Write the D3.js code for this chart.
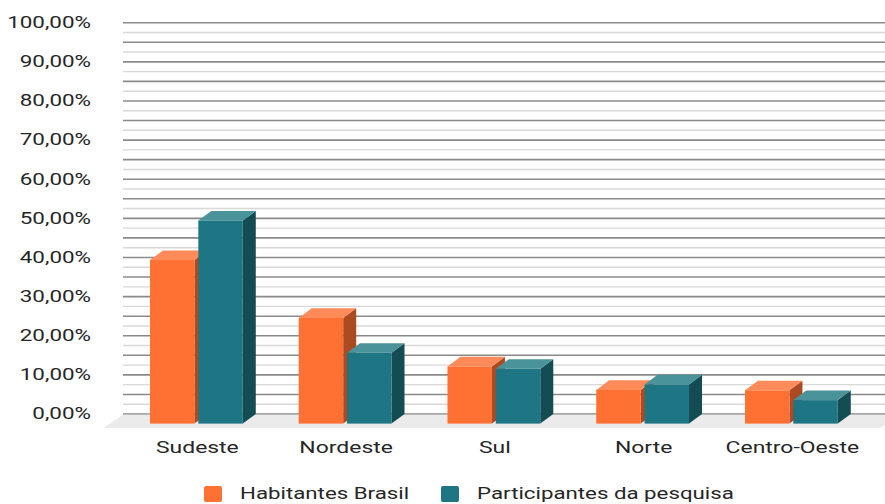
<!DOCTYPE html>
<html>
<head>
<meta charset="utf-8">
<script src="https://cdn.jsdelivr.net/npm/d3@7"></script>
<style>
  html, body { margin: 0; padding: 0; background: #ffffff; }
  svg { display: block; }
  text { font-family: Roboto, "Liberation Sans", Arial, sans-serif; fill: #262626; }
</style>
</head>
<body>
<svg id="chart" width="885" height="504"></svg>
<script>
// ---- data ----
const categories = ["Sudeste", "Nordeste", "Sul", "Norte", "Centro-Oeste"];
const seriesNames = ["Habitantes Brasil", "Participantes da pesquisa"];
const habitantesBrasil = [41.8, 27.0, 14.6, 8.6, 8.5];
const participantesPesquisa = [51.9, 18.1, 14.0, 10.0, 6.0];
const yTickValues = [0, 10, 20, 30, 40, 50, 60, 70, 80, 90, 100];

// ---- layout / style ----
const W = 885, H = 504;
const plotLeft = 123, plotRight = 885;
const backZeroY = 414, backTopY = 22.7;
const depthDx = 13, depthDy = 9.6;
const floorDx = 20, floorDy = 14;
const colors = {
  "Habitantes Brasil": { front: "#ff7033", top: "#ff8b5a", side: "#ac4a22" },
  "Participantes da pesquisa": { front: "#1e7583", top: "#4b939b", side: "#144c54" }
};

const svg = d3.select("#chart");

const y = d3.scaleLinear().domain([0, 100]).range([backZeroY, backTopY]);
const x = d3.scaleBand().domain(categories).range([122, 122 + 5 * 148.75]).padding(0);
const xs = d3.scaleBand().domain(seriesNames).range([-46.4, 46.4]).paddingInner(0.08).paddingOuter(0);

// gridlines every 2.5% (dark every 5%)
const gridVals = d3.range(0, 100.001, 2.5);
svg.append("g").selectAll("line")
  .data(gridVals)
  .join("line")
  .attr("x1", plotLeft).attr("x2", plotRight)
  .attr("y1", d => y(d)).attr("y2", d => y(d))
  .attr("stroke", d => (Math.round(d * 10) % 50 === 0) ? "#8a8a8a" : "#d8d8d8")
  .attr("stroke-width", d => (Math.round(d * 10) % 50 === 0) ? 1.6 : 1.4);

// floor
const fy0 = y(0) + 0.8;
svg.append("path")
  .attr("d", `M${plotLeft},${fy0} L${plotRight + 20},${fy0} L${plotRight - 5},${y(0) + floorDy} L${plotLeft - floorDx},${y(0) + floorDy} Z`)
  .attr("fill", "#ebebeb");

// bars
const rows = categories.map((c, i) => ({
  cat: c,
  vals: [
    { s: seriesNames[0], v: habitantesBrasil[i] },
    { s: seriesNames[1], v: participantesPesquisa[i] }
  ]
}));

const barG = svg.append("g");
rows.forEach(r => {
  const cx = x(r.cat) + x.bandwidth() / 2;
  r.vals.forEach(d => {
    const bw = xs.bandwidth();
    const x0 = cx + xs(d.s);
    const x1 = x0 + bw;
    const yTopFront = y(d.v) + depthDy;
    const yBotFront = y(0) + depthDy;
    const c = colors[d.s];
    barG.append("path")
      .attr("d", `M${x1},${yTopFront} L${x1 + depthDx},${yTopFront - depthDy} L${x1 + depthDx},${yBotFront - depthDy} L${x1},${yBotFront} Z`)
      .attr("fill", c.side);
    barG.append("path")
      .attr("d", `M${x0},${yTopFront} L${x0 + depthDx},${yTopFront - depthDy} L${x1 + depthDx},${yTopFront - depthDy} L${x1},${yTopFront} Z`)
      .attr("fill", c.top);
    barG.append("rect")
      .attr("x", x0).attr("y", yTopFront)
      .attr("width", bw).attr("height", yBotFront - yTopFront)
      .attr("fill", c.front);
  });
});

// y axis labels
const fmt = v => v.toFixed(2).replace(".", ",") + "%";
svg.append("g").selectAll("text")
  .data(yTickValues)
  .join("text")
  .attr("transform", d => `translate(91,${y(d)}) scale(1.42,1)`)
  .attr("text-anchor", "end")
  .attr("dominant-baseline", "central")
  .attr("font-size", 15.8)
  .text(fmt);

// x axis labels
svg.append("g").selectAll("text")
  .data(categories)
  .join("text")
  .attr("transform", d => `translate(${x(d) + x.bandwidth() / 2 + 1},${447}) scale(1.39,1)`)
  .attr("text-anchor", "middle")
  .attr("dominant-baseline", "central")
  .attr("font-size", 16.5)
  .text(d => d);

// legend
const legendX = [204, 441];
const legend = svg.append("g").selectAll("g")
  .data(seriesNames)
  .join("g")
  .attr("transform", (d, i) => `translate(${legendX[i]},494)`);
legend.append("rect")
  .attr("x", 0).attr("y", -8).attr("width", 18).attr("height", 16).attr("rx", 2)
  .attr("fill", d => colors[d].front);
legend.append("text")
  .attr("transform", `translate(36,0) scale(1.35,1)`)
  .attr("dominant-baseline", "central")
  .attr("font-size", 16.5)
  .text(d => d);
</script>
</body>
</html>
